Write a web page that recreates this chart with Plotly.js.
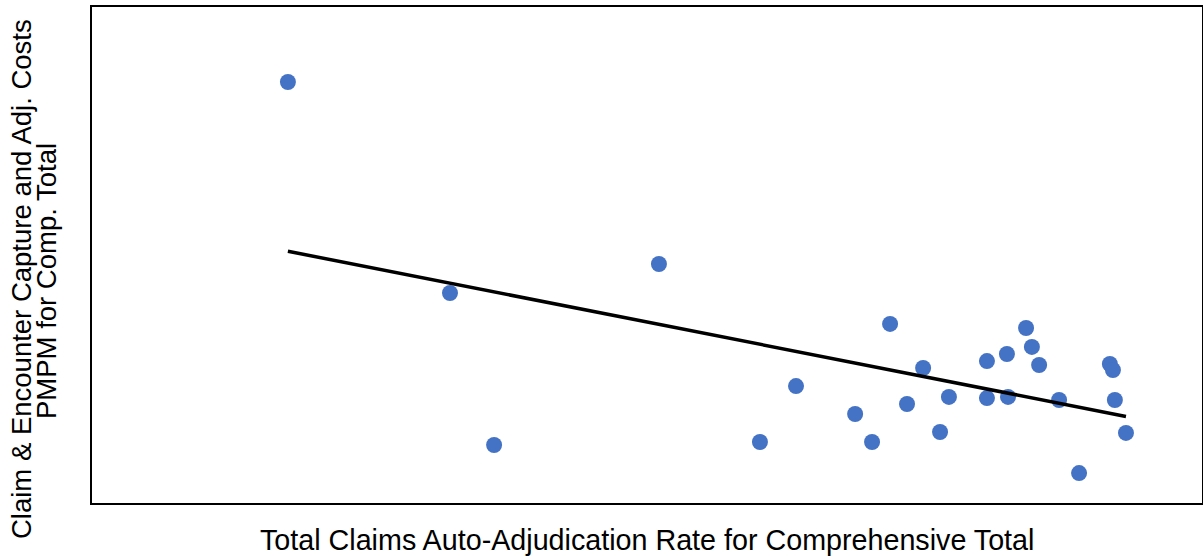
<!DOCTYPE html>
<html>
<head>
<meta charset="utf-8">
<script src="https://cdn.plot.ly/plotly-3.0.1.min.js"></script>
<style>html,body{margin:0;padding:0;background:#fff;}#chart{width:1203px;height:556px;}</style>
</head>
<body>
<div id="chart"></div>
<script>
// Auto-adjudication rate (%) for each plan
const autoAdjRate = [67.06, 72.90, 74.49, 80.43, 84.07, 85.37, 87.50, 88.11, 88.76, 89.37,
  89.95, 90.56, 90.88, 92.25, 92.25, 92.97, 93.01, 93.66, 93.87, 94.13,
  94.85, 95.57, 96.68, 96.79, 96.86, 97.26];
// Claim & encounter capture and adjudication costs PMPM
const captureCostPMPM = [4.244, 2.117, 0.585, 2.409, 0.615, 1.179, 0.897, 0.615, 1.805, 0.998,
  1.361, 0.716, 1.069, 1.431, 1.058, 1.502, 1.069, 1.764, 1.573, 1.391,
  1.038, 0.302, 1.401, 1.341, 1.038, 0.706];

const xTitle = "Total Claims Auto-Adjudication Rate for Comprehensive Total";
const yTitleLines = ["Claim & Encounter Capture and Adj. Costs", "PMPM for Comp. Total"];

// Linear least-squares trendline
const n = autoAdjRate.length;
const mx = autoAdjRate.reduce((a, b) => a + b, 0) / n;
const my = captureCostPMPM.reduce((a, b) => a + b, 0) / n;
let sxy = 0, sxx = 0;
for (let i = 0; i < n; i++) {
  sxy += (autoAdjRate[i] - mx) * (captureCostPMPM[i] - my);
  sxx += (autoAdjRate[i] - mx) ** 2;
}
const slope = sxy / sxx;
const intercept = my - slope * mx;
const xMin = Math.min(...autoAdjRate), xMax = Math.max(...autoAdjRate);
const trendX = [xMin, xMax];
const trendY = trendX.map(x => intercept + slope * x);

const font = {family: "Liberation Sans, Arial, sans-serif", color: "#000"};

const data = [
  {
    x: autoAdjRate, y: captureCostPMPM, type: "scatter", mode: "markers",
    marker: {color: "#4472C4", size: 16}, hoverinfo: "x+y", showlegend: false
  },
  {
    x: trendX, y: trendY, type: "scatter", mode: "lines",
    line: {color: "#000", width: 3.5}, hoverinfo: "skip", showlegend: false
  }
];

const axisBase = {
  showticklabels: false, ticks: "", showgrid: false, zeroline: false,
  showline: true, mirror: true, linecolor: "#000", linewidth: 2, fixedrange: true
};

const layout = {
  width: 1203, height: 556,
  margin: {l: 92, r: 1, t: 7, b: 53, pad: 0},
  paper_bgcolor: "#fff", plot_bgcolor: "#fff",
  font: font,
  xaxis: Object.assign({range: [60, 100]}, axisBase),
  yaxis: Object.assign({range: [0, 5]}, axisBase),
  annotations: [
    {text: xTitle, xref: "paper", yref: "paper", x: 0.5, y: 0, xanchor: "center", yanchor: "middle",
     yshift: -37, showarrow: false, font: Object.assign({size: 28.7}, font)},
    {text: yTitleLines[0], xref: "paper", yref: "paper", x: 0, y: 0.5, xanchor: "center", yanchor: "middle",
     xshift: -71, yshift: -24, textangle: -90, showarrow: false, font: Object.assign({size: 27.5}, font)},
    {text: yTitleLines[1], xref: "paper", yref: "paper", x: 0, y: 0.5, xanchor: "center", yanchor: "middle",
     xshift: -46, yshift: -26, textangle: -90, showarrow: false, font: Object.assign({size: 27.5}, font)}
  ]
};

Plotly.newPlot("chart", data, layout, {displayModeBar: false, staticPlot: true});
</script>
</body>
</html>
